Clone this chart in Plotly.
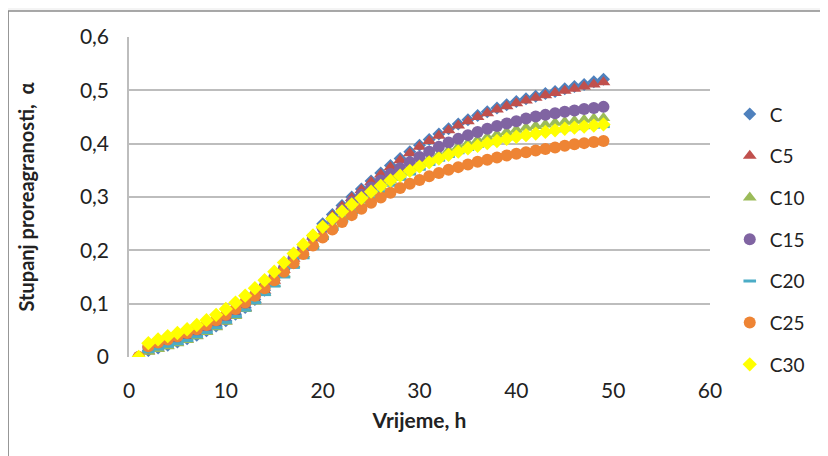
import plotly.graph_objects as go

hours = list(range(1, 50))

C = [0.000, 0.012, 0.017, 0.022, 0.028, 0.034, 0.041, 0.049, 0.058, 0.068,
     0.080, 0.093, 0.108, 0.125, 0.144, 0.164, 0.185, 0.206, 0.228, 0.250,
     0.267, 0.284, 0.300, 0.315, 0.330, 0.345, 0.359, 0.372, 0.385, 0.397,
     0.408, 0.418, 0.428, 0.437, 0.445, 0.453, 0.460, 0.467, 0.473, 0.479,
     0.484, 0.489, 0.494, 0.498, 0.503, 0.507, 0.511, 0.516, 0.521]

C5 = [0.000, 0.011, 0.016, 0.021, 0.027, 0.033, 0.040, 0.048, 0.057, 0.067,
      0.079, 0.092, 0.107, 0.124, 0.143, 0.163, 0.184, 0.205, 0.226, 0.247,
      0.265, 0.282, 0.298, 0.313, 0.328, 0.342, 0.356, 0.369, 0.382, 0.394,
      0.405, 0.415, 0.425, 0.434, 0.442, 0.450, 0.457, 0.464, 0.470, 0.476,
      0.481, 0.486, 0.491, 0.495, 0.499, 0.503, 0.507, 0.511, 0.515]

C10 = [0.000, 0.010, 0.015, 0.020, 0.026, 0.032, 0.039, 0.047, 0.056, 0.066,
       0.077, 0.090, 0.104, 0.120, 0.137, 0.155, 0.174, 0.193, 0.212, 0.230,
       0.247, 0.263, 0.278, 0.293, 0.306, 0.319, 0.331, 0.342, 0.352, 0.362,
       0.371, 0.379, 0.387, 0.394, 0.401, 0.407, 0.412, 0.417, 0.422, 0.426,
       0.430, 0.433, 0.436, 0.439, 0.441, 0.443, 0.445, 0.447, 0.448]

C15 = [0.000, 0.018, 0.024, 0.030, 0.036, 0.042, 0.049, 0.057, 0.066, 0.076,
       0.088, 0.101, 0.116, 0.132, 0.149, 0.167, 0.186, 0.205, 0.224, 0.242,
       0.259, 0.275, 0.290, 0.304, 0.318, 0.331, 0.343, 0.354, 0.365, 0.375,
       0.385, 0.394, 0.402, 0.409, 0.416, 0.422, 0.428, 0.433, 0.438, 0.442,
       0.447, 0.451, 0.454, 0.457, 0.460, 0.462, 0.465, 0.467, 0.469]

C20 = [0.000, 0.010, 0.015, 0.020, 0.025, 0.031, 0.038, 0.046, 0.055, 0.065,
       0.076, 0.088, 0.102, 0.117, 0.133, 0.150, 0.168, 0.186, 0.204, 0.222,
       0.239, 0.255, 0.270, 0.284, 0.297, 0.310, 0.322, 0.333, 0.343, 0.352,
       0.361, 0.369, 0.376, 0.383, 0.389, 0.395, 0.400, 0.405, 0.409, 0.413,
       0.416, 0.419, 0.422, 0.424, 0.426, 0.428, 0.430, 0.431, 0.432]

C25 = [0.000, 0.020, 0.027, 0.033, 0.039, 0.045, 0.052, 0.060, 0.069, 0.079,
       0.090, 0.102, 0.115, 0.129, 0.144, 0.160, 0.176, 0.193, 0.209, 0.224,
       0.239, 0.253, 0.266, 0.278, 0.289, 0.299, 0.308, 0.317, 0.325, 0.332,
       0.339, 0.345, 0.351, 0.356, 0.361, 0.366, 0.370, 0.374, 0.378, 0.381,
       0.384, 0.387, 0.390, 0.393, 0.396, 0.399, 0.401, 0.403, 0.405]

C30 = [0.000, 0.026, 0.033, 0.039, 0.045, 0.052, 0.060, 0.069, 0.079, 0.090,
       0.102, 0.115, 0.129, 0.144, 0.160, 0.177, 0.194, 0.211, 0.228, 0.244,
       0.259, 0.273, 0.286, 0.298, 0.310, 0.321, 0.331, 0.340, 0.349, 0.357,
       0.365, 0.372, 0.379, 0.385, 0.391, 0.396, 0.401, 0.405, 0.409, 0.413,
       0.416, 0.419, 0.422, 0.425, 0.428, 0.430, 0.432, 0.434, 0.436]

series_names = ["C", "C5", "C10", "C15", "C20", "C25", "C30"]
series_values = [C, C5, C10, C15, C20, C25, C30]

y_tick_vals = [0, 0.1, 0.2, 0.3, 0.4, 0.5, 0.6]
y_tick_text = ["0", "0,1", "0,2", "0,3", "0,4", "0,5", "0,6"]
x_tick_vals = [0, 10, 20, 30, 40, 50, 60]

styles = [
    dict(symbol="diamond", size=10, color="#4F81BD"),
    dict(symbol="triangle-up", size=12, color="#C0504D"),
    dict(symbol="triangle-up", size=12, color="#9BBB59"),
    dict(symbol="circle", size=12, color="#8064A2"),
    dict(symbol="line-ew-open", size=9, color="#4BACC6"),
    dict(symbol="circle", size=12, color="#EE8434"),
    dict(symbol="diamond", size=11, color="#FFFF00"),
]

fig = go.Figure()
for name, vals, st in zip(series_names, series_values, styles):
    if st["symbol"] == "line-ew-open":
        marker = dict(symbol=st["symbol"], size=st["size"], color=st["color"],
                      line=dict(color=st["color"], width=3))
    else:
        marker = dict(symbol=st["symbol"], size=st["size"], color=st["color"],
                      line=dict(width=0))
    fig.add_trace(go.Scatter(x=hours, y=vals, mode="markers", name=name,
                             marker=marker, legendgroup=name))

font_fam = "Lato, 'Open Sans', sans-serif"

fig.update_layout(
    width=828, height=456,
    margin=dict(l=121, r=126, t=29, b=107, autoexpand=False),
    paper_bgcolor="#f4f4f4",
    plot_bgcolor="white",
    font=dict(family=font_fam, size=21, color="#222222"),
    showlegend=True,
    legend=dict(x=1.034, y=0.818, xanchor="left", yanchor="top",
                font=dict(size=19, color="#222222"),
                tracegroupgap=14, itemwidth=30,
                bgcolor="rgba(0,0,0,0)"),
    shapes=[dict(type="rect", xref="paper", yref="paper",
                 x0=-0.208, y0=-0.5, x1=1.4, y1=1.081,
                 fillcolor="white", line=dict(color="#8c8c8c", width=1.5),
                 layer="below")],
)

fig.update_xaxes(range=[0, 60], tickvals=x_tick_vals, ticks="",
                 showgrid=False, zeroline=False, showline=False,
                 automargin=False, ticklabelstandoff=19,
                 tickfont=dict(size=21),
                 title=dict(text="<b>Vrijeme, h</b>", font=dict(size=21), standoff=12))
fig.update_yaxes(range=[0, 0.6], tickvals=y_tick_vals, ticktext=y_tick_text,
                 ticks="", showgrid=True, gridcolor="#bdbdbd", gridwidth=1.5,
                 zeroline=False, showline=True, linecolor="#bdbdbd", linewidth=1.5,
                 automargin=False, ticklabelstandoff=14,
                 tickfont=dict(size=21),
                 title=dict(text="<b>Stupanj proreagranosti,  α</b>", font=dict(size=20), standoff=40))

fig.write_html("out.html")
